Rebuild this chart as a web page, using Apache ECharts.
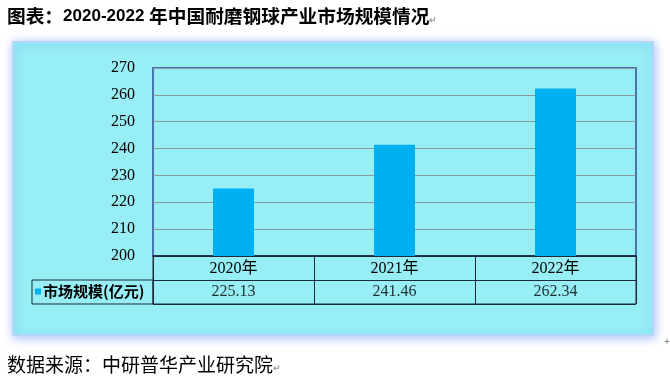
<!DOCTYPE html>
<html>
<head>
<meta charset="utf-8">
<script src="https://cdn.jsdelivr.net/npm/echarts@6/dist/echarts.min.js"></script>
<style>html,body{margin:0;padding:0;background:#fff;}#c{width:670px;height:379px;}</style>
</head>
<body>
<div id="c"></div>
<script>
var categories = ['2020年', '2021年', '2022年'];
var seriesName = '市场规模(亿元)';
var values = [225.13, 241.46, 262.34];
var valueLabels = ['225.13', '241.46', '262.34'];
var yTicks = [200, 210, 220, 230, 240, 250, 260, 270];

var chart = echarts.init(document.getElementById('c'), null, {renderer: 'canvas'});
var serif = '"Liberation Serif", "Noto Sans CJK SC", serif';
var cjk = '"Noto Sans CJK SC", sans-serif';

var option = {
  animation: false,
  backgroundColor: '#ffffff',
  title: [{
    left: 2, top: 2,
    text: '{a|图表：}{b|2020-2022 }{a|年中国耐磨钢球产业市场规模情况}{r|↵}',
    textStyle: {
      rich: {
        a: {fontFamily: cjk, fontWeight: 'bold', fontSize: 18.7, color: '#000'},
        b: {fontFamily: '"Liberation Sans", Arial, sans-serif', fontWeight: 'bold', fontSize: 17, color: '#000'},
        r: {fontFamily: cjk, fontSize: 9, color: '#999', padding: [6, 0, 0, 0]}
      }
    }
  }, {
    left: 2, top: 350,
    text: '{a|数据来源：中研普华产业研究院}{r|↵}',
    textStyle: {
      rich: {
        a: {fontFamily: cjk, fontWeight: 'normal', fontSize: 19, color: '#000'},
        r: {fontFamily: cjk, fontSize: 9, color: '#999', padding: [6, 0, 0, 0]}
      }
    }
  }],
  graphic: [{
    type: 'rect', z: -10, silent: true,
    shape: {x: 13, y: 42, width: 640, height: 293},
    style: {fill: '#97EEF5', stroke: '#b4d6f8', lineWidth: 2,
      shadowBlur: 10, shadowColor: 'rgba(110,150,240,0.6)', shadowOffsetX: 1, shadowOffsetY: 2}
  }, {
    type: 'text', left: 664, top: 337, silent: true,
    style: {text: '+', fontSize: 10, fill: '#888'}
  }],
  legend: {
    left: 35, top: 284, padding: 0,
    icon: 'rect', itemWidth: 6, itemHeight: 6, itemGap: 4,
    data: [seriesName],
    textStyle: {fontFamily: cjk, fontWeight: 'bold', fontSize: 15, color: '#000', padding: [0, 0, 0, -3]}
  },
  grid: [
    {left: 153, top: 68, width: 483, height: 188, show: true, borderColor: '#4a72b8', borderWidth: 2, backgroundColor: 'transparent'},
    {left: 153, top: 256, width: 483, height: 48, show: true, borderColor: '#1c2a3a', borderWidth: 1, backgroundColor: 'transparent'},
    {left: 32, top: 280, width: 121, height: 24, show: true, borderColor: '#1c2a3a', borderWidth: 1, backgroundColor: 'transparent'}
  ],
  xAxis: [{
    type: 'category', gridIndex: 0, data: categories,
    axisLine: {show: true, lineStyle: {color: '#1c2a3a', width: 1.5}},
    axisTick: {show: false},
    axisLabel: {margin: 5, fontFamily: serif, fontSize: 16, color: '#000'}
  }, {
    type: 'category', gridIndex: 1, data: categories,
    axisLine: {show: false}, axisTick: {show: false}, axisLabel: {show: false},
    splitLine: {show: true, interval: 0, lineStyle: {color: '#1c2a3a', width: 1}}
  }, {
    type: 'category', gridIndex: 2, data: ['a'], show: false
  }],
  yAxis: [{
    type: 'value', gridIndex: 0, min: 200, max: 270, interval: 10,
    axisLine: {show: false}, axisTick: {show: false},
    axisLabel: {margin: 18, fontFamily: serif, fontSize: 16, color: '#000',
      formatter: function (v) { return yTicks.indexOf(v) >= 0 ? String(v) : ''; }},
    splitLine: {show: true, lineStyle: {color: '#84989e', width: 1}}
  }, {
    type: 'category', gridIndex: 1, data: ['header', 'value'], inverse: true,
    axisLine: {show: false}, axisTick: {show: false}, axisLabel: {show: false},
    splitLine: {show: true, interval: 0, lineStyle: {color: '#1c2a3a', width: 1}}
  }, {
    type: 'value', gridIndex: 2, show: false
  }],
  series: [{
    name: seriesName, type: 'bar', xAxisIndex: 0, yAxisIndex: 0,
    barWidth: 41, data: values,
    itemStyle: {color: '#00B0F0'}
  }, {
    name: 'tableValues', type: 'scatter', xAxisIndex: 1, yAxisIndex: 1,
    symbolSize: 0, silent: true,
    data: valueLabels.map(function (t, i) { return [i, 'value', t]; }),
    label: {show: true, position: 'inside', formatter: function (p) { return p.data[2]; },
      fontFamily: serif, fontSize: 16, color: '#000'}
  }]
};
chart.setOption(option);
</script>
</body>
</html>
